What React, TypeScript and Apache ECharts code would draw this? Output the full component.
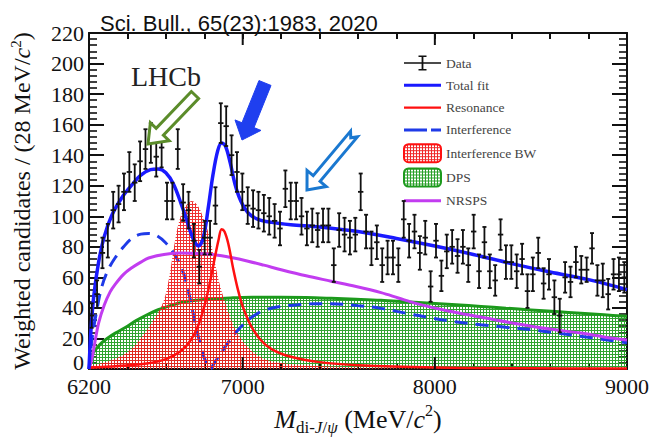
import React, { useEffect, useRef } from 'react';
import * as echarts from 'echarts';

// ---------- data ----------
const binCenters = [
  6214, 6242, 6270, 6298, 6326, 6354, 6382, 6410, 6438, 6466,
  6494, 6522, 6550, 6578, 6606, 6634, 6662, 6690, 6718, 6746,
  6774, 6802, 6830, 6858, 6886, 6914, 6942, 6970, 6998, 7026,
  7054, 7082, 7110, 7138, 7166, 7194, 7222, 7250, 7278, 7306,
  7334, 7362, 7390, 7418, 7446, 7474, 7502, 7530, 7558, 7586,
  7614, 7642, 7670, 7698, 7726, 7754, 7782, 7810, 7838, 7866,
  7894, 7922, 7950, 7978, 8006, 8034, 8062, 8090, 8118, 8146,
  8174, 8202, 8230, 8258, 8286, 8314, 8342, 8370, 8398, 8426,
  8454, 8482, 8510, 8538, 8566, 8594, 8622, 8650, 8678, 8706,
  8734, 8762, 8790, 8818, 8846, 8874, 8902, 8930, 8958, 8986,
];
const counts = [
  35, 49, 76, 84, 104, 108, 116, 129, 122, 136,
  144, 148, 139, 145, 110, 110, 144, 109, 104, 84,
  67, 86, 86, 107, 161, 159, 140, 129, 116, 107,
  105, 104, 102, 100, 97, 92, 118, 110, 110, 100,
  92, 94, 91, 94, 94, 68, 91, 88, 86, 88,
  116, 90, 79, 83, 68, 73, 73, 68, 98, 84,
  90, 76, 86, 54, 84, 61, 77, 80, 74, 80,
  68, 90, 64, 83, 64, 58, 88, 70, 70, 64,
  72, 51, 62, 76, 56, 62, 47, 35, 60, 57,
  70, 65, 65, 79, 58, 58, 49, 62, 62, 60,
];
const errors = [
  8, 9, 10, 11, 12, 12, 12, 13, 12, 13,
  13, 13, 13, 13, 12, 12, 13, 12, 12, 11,
  11, 11, 11, 12, 13, 13, 13, 13, 12, 12,
  12, 12, 12, 12, 11, 11, 12, 12, 12, 12,
  11, 11, 11, 11, 11, 11, 11, 11, 11, 11,
  12, 11, 11, 11, 11, 11, 11, 11, 12, 11,
  11, 11, 11, 10, 11, 10, 11, 11, 11, 11,
  11, 11, 11, 10, 11, 10, 10, 11, 11, 11,
  10, 11, 11, 10, 10, 10, 11, 11, 10, 10,
  10, 9, 8, 10, 10, 11, 10, 10, 11, 10,
];

const totalFitM = [6200, 6210, 6225, 6250, 6280, 6320, 6370, 6420, 6470, 6520, 6560, 6600, 6640, 6680, 6710, 6740, 6770, 6795, 6820, 6845, 6870, 6890, 6910, 6935, 6960, 6990, 7030, 7080, 7150, 7250, 7400, 7600, 7800, 8000, 8200, 8400, 8600, 8800, 9000];
const totalFitV = [0, 25, 48, 70, 87, 101, 112, 120, 127, 130.5, 131, 128.5, 121, 108, 97, 86, 80.5, 86, 105, 127, 143, 148, 146, 135, 121, 110, 102, 98, 96, 94.5, 93, 90, 85.5, 80.5, 75, 69, 63.5, 58.5, 52];

const resM = [6200, 6350, 6500, 6600, 6680, 6730, 6770, 6800, 6830, 6855, 6875, 6890, 6905, 6925, 6950, 6975, 7000, 7040, 7090, 7150, 7250, 7400, 7600, 8000, 8500, 9000];
const resV = [0.8, 2, 3.6, 6.5, 12, 19, 29, 41, 57, 73, 85, 91.5, 90, 82, 66, 52, 41, 29, 19.5, 13, 8, 4.5, 2.5, 1, 0.5, 0.3];

const intM = [6200, 6215, 6240, 6267, 6300, 6337, 6380, 6423, 6470, 6510, 6550, 6596, 6640, 6682, 6710, 6734, 6760, 6786, 6810, 6830, 6855, 6890, 6924, 6965, 7010, 7060, 7114, 7200, 7287, 7380, 7460, 7600, 7719, 7850, 7978, 8100, 8238, 8370, 8497, 8630, 8756, 8880, 9000];
const intV = [0, 19, 38, 54, 65, 73, 80, 85.5, 88.3, 88.7, 87.5, 83, 76, 66, 55, 41, 26, 13, 4, 0, 4.5, 11, 17.3, 24, 30, 35, 38.6, 41, 42, 42.8, 42.8, 41.5, 39.7, 36.5, 33.5, 31, 29, 27.3, 25.8, 23.6, 21.5, 19.3, 17.2];

const ibwM = [6200, 6300, 6400, 6475, 6530, 6565, 6595, 6620, 6645, 6670, 6700, 6735, 6770, 6800, 6822, 6850, 6875, 6905, 6950, 6995, 7050, 7113, 7200, 7350, 7550, 7800, 8100, 9000];
const ibwV = [2, 5, 11, 21, 31, 38, 47, 62, 82, 97, 106, 110, 106, 97, 89, 73, 58, 45, 29, 19, 11.5, 6.5, 4, 2.3, 1.2, 0.5, 0.1, 0];

const dpsM = [6200, 6207, 6215, 6233, 6260, 6300, 6337, 6400, 6450, 6510, 6560, 6600, 6682, 6760, 6850, 6950, 7050, 7200, 7330, 7460, 7590, 7720, 7850, 7980, 8110, 8240, 8370, 8500, 8630, 8760, 8880, 9000];
const dpsV = [0, 5, 9, 12.5, 16.5, 20.5, 23.5, 28, 32, 36, 38.8, 40.5, 43.5, 45, 46, 46.6, 47, 47, 46.8, 46.3, 45.7, 45, 44, 43, 42, 41, 39.8, 38.7, 37.6, 36.5, 35.5, 34.5];

const nrM = [6200, 6215, 6230, 6250, 6280, 6310, 6337, 6380, 6423, 6470, 6510, 6590, 6682, 6770, 6855, 6940, 7028, 7110, 7200, 7330, 7460, 7590, 7720, 7810, 7900, 8070, 8240, 8410, 8580, 8760, 8880, 9000];
const nrV = [0, 6.6, 17, 30, 42, 50.5, 55.6, 62, 66.3, 70, 72.7, 75, 75.9, 75.6, 74.8, 73, 70.6, 68, 65, 61, 57.5, 54, 50, 46.5, 43, 38, 34, 30, 26.5, 23.5, 21, 19];

const xMajorTicks = [7000, 8000];
const xLabelValues = [6200, 7000, 8000, 9000];

// ---------- helpers ----------
const zip = (a: number[], b: number[]) => a.map((v, i) => [v, b[i]]);

function makePattern(r: number, g: number, b: number, a: number) {
  const c = document.createElement('canvas');
  c.width = 3;
  c.height = 3;
  const ctx = c.getContext('2d')!;
  ctx.fillStyle = `rgba(${r},${g},${b},${a})`;
  ctx.fillRect(0, 0, 3, 3);
  ctx.clearRect(1, 1, 2, 2);
  return { image: c, repeat: 'repeat' } as any;
}

function arrowPoints(tail: number[], tip: number[], sw: number, hw: number, hl: number, notch = 0) {
  const dx = tip[0] - tail[0];
  const dy = tip[1] - tail[1];
  const L = Math.hypot(dx, dy);
  const ux = dx / L, uy = dy / L;
  const nx = -uy, ny = ux;
  const hx = tip[0] - ux * hl, hy = tip[1] - uy * hl;
  const pts = [
    [tail[0] + nx * sw, tail[1] + ny * sw],
    [hx + nx * sw, hy + ny * sw],
    [hx + nx * hw, hy + ny * hw],
    [tip[0], tip[1]],
    [hx - nx * hw, hy - ny * hw],
    [hx - nx * sw, hy - ny * sw],
    [tail[0] - nx * sw, tail[1] - ny * sw],
  ];
  if (notch) pts.push([tail[0] + ux * notch, tail[1] + uy * notch]);
  return pts;
}

const SERIF = 'Liberation Serif';
const SPECKS = 'M0,0H0.01V0.01H0Z M36.99,17.99H37V18H36.99Z ';
const ICON_SOLID = 'path://' + SPECKS + 'M0,7.5H37V10.5H0Z';
const ICON_THIN = 'path://' + SPECKS + 'M0,7.8H37V10.2H0Z';
const ICON_DASH = 'path://' + SPECKS + 'M0,7.5H23V10.5H0Z M27,7.5H37V10.5H27Z';
const ICON_DATA = 'path://' + SPECKS + 'M0,8.2H37V9.8H0Z M17.6,1.5H19.4V16.5H17.6Z M14.5,1.5H22.5V3H14.5Z M14.5,15H22.5V16.5H14.5Z';

export default function App() {
  const ref = useRef<HTMLDivElement>(null);
  useEffect(() => {
    const chart = echarts.init(ref.current!, null, { renderer: 'svg' });
    const redPat = makePattern(238, 30, 30, 0.92);
    const greenPat = makePattern(30, 155, 30, 0.92);
    const redPatLegend = makePattern(238, 30, 30, 0.95);
    const greenPatLegend = makePattern(30, 155, 30, 0.95);

    const axisCommon = {
      type: 'value' as const,
      axisLine: { show: true, onZero: false, lineStyle: { color: '#111', width: 2 } },
      splitLine: { show: false },
    };
    const lineSeries = (name: string, m: number[], v: number[], extra: any) => ({
      name,
      type: 'line',
      data: zip(m, v),
      smooth: 0.35,
      symbol: 'none',
      showSymbol: false,
      ...extra,
    });

    const option: any = {
      animation: false,
      backgroundColor: '#fff',
      title: {
        text: 'Sci. Bull., 65(23):1983, 2020',
        left: 95,
        top: 7,
        textStyle: { fontFamily: 'Liberation Sans', fontSize: 22, fontWeight: 'normal', color: '#111' },
      },
      grid: { left: 87, top: 33, right: 25, bottom: 64, containLabel: false },
      legend: {
        orient: 'vertical',
        left: 398,
        top: 49,
        itemWidth: 37,
        itemHeight: 18,
        itemGap: 4.3,
        selectedMode: false,
        textStyle: { fontFamily: SERIF, fontSize: 13.5, color: '#444' },
        data: [
          { name: 'Data', icon: ICON_DATA, itemStyle: { color: '#111' } },
          { name: 'Total fit', icon: ICON_SOLID, itemStyle: { color: '#1a1aff' } },
          { name: 'Resonance', icon: ICON_THIN, itemStyle: { color: '#ff1010' } },
          { name: 'Interference', icon: ICON_DASH, itemStyle: { color: '#1f3be8' } },
          { name: 'Interference BW', icon: 'roundRect', itemStyle: { color: redPatLegend, borderColor: '#ff1010', borderWidth: 2 } },
          { name: 'DPS', icon: 'roundRect', itemStyle: { color: greenPatLegend, borderColor: '#1c9a1c', borderWidth: 2 } },
          { name: 'NRSPS', icon: ICON_SOLID, itemStyle: { color: '#c23cf0' } },
        ],
      },
      xAxis: [
        {
          ...axisCommon,
          position: 'bottom',
          min: 6200,
          max: 9000,
          interval: 200,
          axisTick: { show: true, inside: true, length: 6, lineStyle: { color: '#111', width: 2 } },
          axisLabel: {
            fontFamily: SERIF,
            fontSize: 22,
            lineHeight: 18,
            color: '#111',
            margin: 8,
            formatter: (v: number) => (xLabelValues.includes(v) ? String(v) : ''),
          },
          name: '{m|M}{sub|di-}{subi|J}{sub|/}{subi|ψ}{n| (MeV/}{mi|c}{sup|2}{n|)}',
          nameLocation: 'middle',
          nameGap: 33,
          nameTextStyle: {
            rich: {
              m: { fontFamily: SERIF, fontStyle: 'italic', fontSize: 26, color: '#111', lineHeight: 34, verticalAlign: 'middle' },
              mi: { fontFamily: SERIF, fontStyle: 'italic', fontSize: 26, color: '#111', lineHeight: 34, verticalAlign: 'middle' },
              n: { fontFamily: SERIF, fontSize: 26, color: '#111', lineHeight: 34, verticalAlign: 'middle' },
              sub: { fontFamily: SERIF, fontSize: 17, color: '#111', lineHeight: 34, verticalAlign: 'bottom' },
              subi: { fontFamily: SERIF, fontStyle: 'italic', fontSize: 17, color: '#111', lineHeight: 34, verticalAlign: 'bottom' },
              sup: { fontFamily: SERIF, fontSize: 16, color: '#111', lineHeight: 34, verticalAlign: 'top' },
            },
          },
        },
        {
          ...axisCommon,
          position: 'top',
          min: 6200,
          max: 9000,
          interval: 200,
          axisTick: { show: true, inside: true, length: 6, lineStyle: { color: '#111', width: 2 } },
          axisLabel: { show: false },
        },
      ],
      yAxis: [
        {
          ...axisCommon,
          position: 'left',
          min: 0,
          max: 220,
          interval: 20,
          axisTick: { show: true, inside: true, length: 15, lineStyle: { color: '#111', width: 2 } },
          minorTick: { show: true, splitNumber: 5, length: 8, lineStyle: { color: '#111', width: 1.6 } },
          axisLabel: {
            fontFamily: SERIF,
            fontSize: 22,
            lineHeight: 18,
            color: '#111',
            margin: 5,
            formatter: (v: number) => (v === 0 ? '{z|0}' : String(v)),
            rich: { z: { fontFamily: SERIF, fontSize: 22, lineHeight: 16, color: '#111', padding: [0, 0, 14, 0] } },
          },
          name: 'Weighted candidates / (28 MeV/{i|c}{s|2})',
          nameLocation: 'middle',
          nameGap: 53,
          nameTextStyle: {
            fontFamily: SERIF,
            fontSize: 24,
            color: '#111',
            rich: {
              i: { fontFamily: SERIF, fontStyle: 'italic', fontSize: 24, color: '#111', lineHeight: 28 },
              s: { fontFamily: SERIF, fontSize: 15, color: '#111', lineHeight: 28, verticalAlign: 'top' },
            },
          },
        },
        {
          ...axisCommon,
          position: 'right',
          min: 0,
          max: 220,
          interval: 20,
          axisTick: { show: true, inside: true, length: 15, lineStyle: { color: '#111', width: 2 } },
          minorTick: { show: true, splitNumber: 5, length: 8, lineStyle: { color: '#111', width: 1.6 } },
          axisLabel: { show: false },
        },
      ],
      series: [
        lineSeries('DPS', dpsM, dpsV, {
          lineStyle: { color: '#1c9a1c', width: 3 },
          itemStyle: { color: '#1c9a1c' },
          areaStyle: { color: greenPat, opacity: 1, origin: 'start' },
          z: 2,
        }),
        lineSeries('Interference', intM, intV, {
          lineStyle: { color: '#1f3be8', width: 3, type: [13, 8] },
          itemStyle: { color: '#1f3be8' },
          z: 3,
        }),
        lineSeries('Interference BW', ibwM, ibwV, {
          lineStyle: { width: 0, opacity: 0, color: '#ff1010' },
          itemStyle: { color: '#ff1010' },
          areaStyle: { color: redPat, opacity: 1, origin: 'start' },
          z: 4,
        }),
        lineSeries('NRSPS', nrM, nrV, {
          lineStyle: { color: '#c23cf0', width: 3 },
          itemStyle: { color: '#c23cf0' },
          z: 5,
        }),
        lineSeries('Resonance', resM, resV, {
          lineStyle: { color: '#ff1010', width: 2.5 },
          itemStyle: { color: '#ff1010' },
          z: 6,
        }),
        lineSeries('Total fit', totalFitM, totalFitV, {
          lineStyle: { color: '#1a1aff', width: 3.5 },
          itemStyle: { color: '#1a1aff' },
          z: 7,
        }),
        {
          name: 'Data',
          type: 'custom',
          data: binCenters.map((m, i) => [m, counts[i], errors[i]]),
          encode: { x: 0, y: 1 },
          itemStyle: { color: '#111' },
          z: 8,
          clip: true,
          renderItem: (params: any, api: any) => {
            const x = api.value(0);
            const y = api.value(1);
            const e = api.value(2);
            const c = api.coord([x, y]);
            const top = api.coord([x, y + e]);
            const bot = api.coord([x, Math.max(0, y - e)]);
            const l = api.coord([x - 14, y]);
            const r = api.coord([x + 14, y]);
            const st = { stroke: '#111', lineWidth: 1.8 };
            return {
              type: 'group',
              children: [
                { type: 'line', shape: { x1: c[0], y1: top[1], x2: c[0], y2: bot[1] }, style: st },
                { type: 'line', shape: { x1: l[0], y1: c[1], x2: r[0], y2: c[1] }, style: st },
                { type: 'line', shape: { x1: c[0] - 2, y1: top[1], x2: c[0] + 2, y2: top[1] }, style: st },
                { type: 'line', shape: { x1: c[0] - 2, y1: bot[1], x2: c[0] + 2, y2: bot[1] }, style: st },
              ],
            };
          },
        },
        {
          name: 'majorTicks',
          type: 'custom',
          data: xMajorTicks.map((v) => [v, 0]),
          encode: { x: 0, y: 1 },
          silent: true,
          z: 9,
          renderItem: (params: any, api: any) => {
            const v = api.value(0);
            const b = api.coord([v, 0]);
            const t = api.coord([v, 220]);
            const st = { stroke: '#111', lineWidth: 2 };
            return {
              type: 'group',
              children: [
                { type: 'line', shape: { x1: b[0], y1: b[1], x2: b[0], y2: b[1] - 12 }, style: st },
                { type: 'line', shape: { x1: t[0], y1: t[1], x2: t[0], y2: t[1] + 12 }, style: st },
              ],
            };
          },
        },
      ],
      graphic: [
        {
          type: 'text',
          left: 131,
          top: 62,
          style: { text: 'LHCb', fontFamily: SERIF, fontSize: 28, fill: '#222' },
          z: 100,
        },
        {
          type: 'polygon',
          shape: { points: arrowPoints([195, 95], [148, 144], 5, 13, 17) },
          style: { fill: '#fff', stroke: '#5b8c2a', lineWidth: 3, lineJoin: 'miter' },
          z: 100,
        },
        {
          type: 'polygon',
          shape: { points: arrowPoints([265, 83], [242, 140], 6.5, 14, 16) },
          style: { fill: '#1f3fef', stroke: '#1f3fef', lineWidth: 1 },
          z: 100,
        },
        {
          type: 'polygon',
          shape: { points: arrowPoints([354, 134], [307, 190], 4.5, 12.5, 15, 5) },
          style: { fill: '#fff', stroke: '#1a78d0', lineWidth: 3, lineJoin: 'miter' },
          z: 100,
        },
      ],
    };
    chart.setOption(option);
    return () => chart.dispose();
  }, []);
  return <div ref={ref} style={{ position: 'absolute', left: 0, top: 0, width: 652, height: 441 }} />;
}
